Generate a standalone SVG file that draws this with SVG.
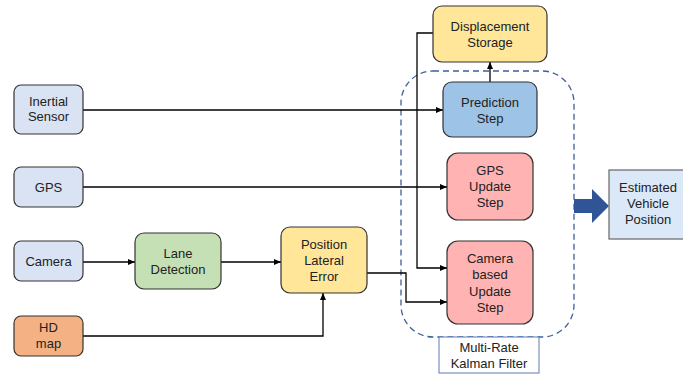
<svg xmlns="http://www.w3.org/2000/svg" width="683" height="376" viewBox="0 0 683 376">
<defs>
<marker id="ah" markerWidth="8" markerHeight="8" refX="7" refY="4" orient="auto" markerUnits="userSpaceOnUse">
<path d="M0,1 L7,4 L0,7 Z" fill="#000"/>
</marker>
<style>
.n{stroke:#333;stroke-width:1.2}
.t{font-family:"Liberation Sans",Arial,sans-serif;font-size:13px;fill:#222;text-anchor:middle}
.c{fill:none;stroke:#000;stroke-width:1.3}
</style>
</defs>
<rect width="683" height="376" fill="#fff"/>
<g id="kalman">
<rect x="401" y="71" width="173" height="266" rx="32" fill="none" stroke="#3c5f9c" stroke-width="1.3" stroke-dasharray="6,4"/>
</g>
<g id="connectors">
<path class="c" d="M83,110 H443" marker-end="url(#ah)"/>
<path class="c" d="M83,187 H447" marker-end="url(#ah)"/>
<path class="c" d="M83,262 H135" marker-end="url(#ah)"/>
<path class="c" d="M221,262 H281" marker-end="url(#ah)"/>
<path class="c" d="M83,336 H323 V293" marker-end="url(#ah)"/>
<path class="c" d="M490,82 V62" marker-end="url(#ah)"/>
<path class="c" d="M433,33 H417 V268 H447" marker-end="url(#ah)"/>
<path class="c" d="M367,273 H406 V302 H447" marker-end="url(#ah)"/>
<path d="M574,199 H592 V189 L609,206 L592,223 V213 H574 Z" fill="#2f5597"/>
</g>
<g id="inertial">
<rect class="n" x="14" y="85" width="69" height="49" rx="7" fill="#dae3f3"/>
<text class="t" x="48.5" y="106">Inertial</text>
<text class="t" x="48.5" y="121">Sensor</text>
</g>
<g id="gps">
<rect class="n" x="14" y="167" width="69" height="40" rx="7" fill="#dae3f3"/>
<text class="t" x="48.5" y="192">GPS</text>
</g>
<g id="camera">
<rect class="n" x="14" y="241" width="69" height="40" rx="7" fill="#dae3f3"/>
<text class="t" x="48.5" y="266">Camera</text>
</g>
<g id="hdmap">
<rect class="n" x="14" y="316" width="69" height="40" rx="7" fill="#f4b183"/>
<text class="t" x="48.5" y="332">HD</text>
<text class="t" x="48.5" y="348">map</text>
</g>
<g id="lane">
<rect class="n" x="135" y="233" width="86" height="56" rx="9" fill="#c5e0b4"/>
<text class="t" x="178" y="258">Lane</text>
<text class="t" x="178" y="274">Detection</text>
</g>
<g id="position">
<rect class="n" x="281" y="227" width="86" height="66" rx="9" fill="#ffe699"/>
<text class="t" x="324" y="249">Position</text>
<text class="t" x="324" y="265">Lateral</text>
<text class="t" x="324" y="281">Error</text>
</g>
<g id="displacement">
<rect class="n" x="433" y="6" width="114" height="56" rx="9" fill="#ffe699"/>
<text class="t" x="490" y="31">Displacement</text>
<text class="t" x="490" y="47">Storage</text>
</g>
<g id="prediction">
<rect class="n" x="443" y="82" width="94" height="55" rx="9" fill="#9dc3e6"/>
<text class="t" x="490" y="107">Prediction</text>
<text class="t" x="490" y="123">Step</text>
</g>
<g id="gpsupdate">
<rect class="n" x="447" y="153" width="86" height="67" rx="11" fill="#ffb3b3"/>
<text class="t" x="490" y="175">GPS</text>
<text class="t" x="490" y="191">Update</text>
<text class="t" x="490" y="207">Step</text>
</g>
<g id="camupdate">
<rect class="n" x="447" y="241" width="86" height="83" rx="11" fill="#ffb3b3"/>
<text class="t" x="490" y="263">Camera</text>
<text class="t" x="490" y="279">based</text>
<text class="t" x="490" y="296">Update</text>
<text class="t" x="490" y="312">Step</text>
</g>
<g id="kalmanlabel">
<rect x="439" y="337" width="100" height="36" fill="#fff" stroke="#5a7bb5" stroke-width="1"/>
<text class="t" x="489" y="352">Multi-Rate</text>
<text class="t" x="489" y="368">Kalman Filter</text>
</g>
<g id="estimated">
<rect x="609" y="170" width="80" height="69" fill="#dae8f7" stroke="#666" stroke-width="1.2"/>
<text class="t" x="648" y="192">Estimated</text>
<text class="t" x="648" y="208">Vehicle</text>
<text class="t" x="648" y="224">Position</text>
</g>
</svg>
